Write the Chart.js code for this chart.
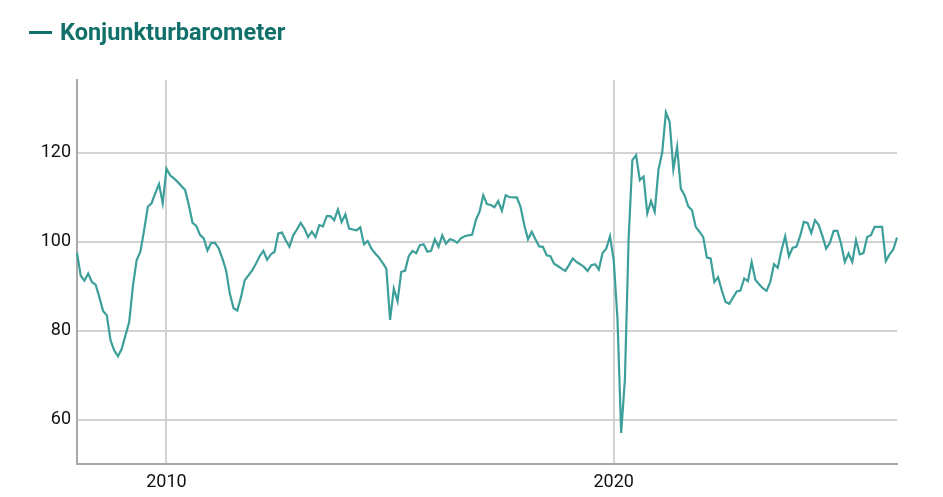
<!DOCTYPE html>
<html>
<head>
<meta charset="utf-8">
<script src="https://cdn.jsdelivr.net/npm/chart.js@4"></script>
<style>
  html, body { margin: 0; padding: 0; background: #fff; }
  #wrap { position: relative; width: 943px; height: 497px; }
  #legend {
    position: absolute; left: 29px; top: 18px;
    font-family: Roboto, sans-serif; font-weight: 700; font-size: 23.5px;
    color: #11706a; display: flex; align-items: center;
  }
  #legend .dash { width: 23px; height: 3px; background: #11706a; margin-right: 8px; }
</style>
</head>
<body>
<div id="wrap">
  <div id="legend"><span class="dash"></span><span>Konjunkturbarometer</span></div>
  <canvas id="chart" width="943" height="497"></canvas>
</div>
<script>
'use strict';

// monthly, Jan 2008 .. May 2026
const startYear = 2008;
const labeledYears = [2010, 2020];
const yTicks = [60, 80, 100, 120];
const seriesName = 'Konjunkturbarometer';

const barometer = [
  97.5, 92.3, 91.2, 92.8, 90.9, 90.3, 87.5, 84.4, 83.4, 77.8, 75.5, 74.2,
  75.9, 78.9, 81.9, 90.0, 95.8, 97.7, 102.5, 107.8, 108.6, 110.8, 112.9, 108.6,
  116.4, 114.9, 114.2, 113.4, 112.5, 111.6, 108.2, 104.2, 103.5, 101.5, 100.7, 98.0,
  99.7, 99.7, 98.5, 96.2, 93.5, 88.3, 85.0, 84.5, 87.5, 91.3, 92.4, 93.5,
  95.0, 96.7, 97.9, 95.9, 97.1, 97.7, 101.8, 102.0, 100.3, 98.8, 101.4, 102.7,
  104.2, 102.9, 101.0, 102.2, 101.0, 103.7, 103.4, 105.7, 105.7, 104.8, 107.2, 104.4,
  106.1, 102.9, 102.7, 102.5, 103.2, 99.4, 100.1, 98.4, 97.3, 96.4, 95.2, 93.9,
  82.4, 89.4, 86.6, 93.2, 93.4, 96.7, 97.9, 97.4, 99.2, 99.4, 97.7, 97.9,
  100.5, 98.8, 101.4, 99.5, 100.5, 100.3, 99.7, 100.7, 101.2, 101.4, 101.5, 104.8,
  106.7, 110.4, 108.4, 108.2, 107.7, 109.1, 106.9, 110.4, 110.0, 109.9, 109.9, 107.8,
  103.7, 100.5, 102.2, 100.5, 98.9, 98.8, 96.9, 96.7, 95.0, 94.5, 93.9, 93.4,
  94.7, 96.2, 95.4, 94.9, 94.3, 93.4, 94.7, 94.9, 93.7, 97.4, 98.4, 101.2,
  95.8, 82.7, 57.0, 69.1, 100.7, 118.3, 119.4, 113.8, 114.6, 106.3, 109.1, 106.7,
  116.1, 120.0, 129.0, 126.9, 116.2, 121.3, 111.9, 110.4, 107.9, 107.0, 103.3, 102.2,
  101.0, 96.4, 96.2, 90.9, 92.0, 89.0, 86.4, 86.0, 87.4, 88.8, 89.0, 91.7,
  91.1, 95.4, 91.4, 90.4, 89.5, 88.9, 90.9, 94.9, 94.1, 98.0, 101.2, 96.7,
  98.6, 98.8, 101.2, 104.4, 104.2, 101.9, 104.8, 103.7, 101.2, 98.4, 99.7, 102.4,
  102.4, 99.5, 95.4, 97.3, 95.4, 100.3, 97.1, 97.4, 101.0, 101.4, 103.3, 103.3,
  103.3, 95.6, 97.1, 98.2, 100.9
];

const months = barometer.map((_, i) => {
  const y = startYear + Math.floor(i / 12);
  const m = (i % 12) + 1;
  return y + '-' + String(m).padStart(2, '0');
});

function yearLabel(lbl) {
  const y = +lbl.slice(0, 4);
  return (lbl.endsWith('-01') && labeledYears.includes(y)) ? String(y) : '';
}

const colors = {
  line: '#3d9f9a',
  grid: '#d2d2d2',
  axis: '#a8a8a8',
  text: '#111111'
};

new Chart(document.getElementById('chart'), {
  type: 'line',
  data: {
    labels: months,
    datasets: [{
      label: seriesName,
      data: barometer,
      borderColor: colors.line,
      borderWidth: 2.2,
      pointRadius: 0,
      tension: 0,
      fill: false
    }]
  },
  options: {
    responsive: false,
    animation: false,
    events: [],
    layout: { padding: { top: 80, right: 46, left: 0, bottom: 0 } },
    plugins: { legend: { display: false }, tooltip: { enabled: false } },
    scales: {
      x: {
        type: 'category',
        offset: false,
        afterFit: (s) => { s.height = 33; },
        border: { color: colors.axis, width: 2 },
        grid: {
          drawTicks: false,
          lineWidth: 2,
          color: (c) => (c.tick && yearLabel(months[c.tick.value]) ? colors.grid : 'transparent')
        },
        ticks: {
          autoSkip: false,
          maxRotation: 0,
          padding: 8,
          color: colors.text,
          font: { family: 'Roboto', size: 18 },
          callback: (v) => yearLabel(months[v])
        }
      },
      y: {
        min: 50,
        max: 136.3,
        afterFit: (s) => { s.width = 77; },
        afterBuildTicks: (s) => { s.ticks = yTicks.map(v => ({ value: v })); },
        border: { color: colors.axis, width: 2 },
        grid: { drawTicks: false, lineWidth: 2, color: colors.grid },
        ticks: {
          padding: 6,
          color: colors.text,
          font: { family: 'Roboto', size: 18 }
        }
      }
    }
  }
});
</script>
</body>
</html>
